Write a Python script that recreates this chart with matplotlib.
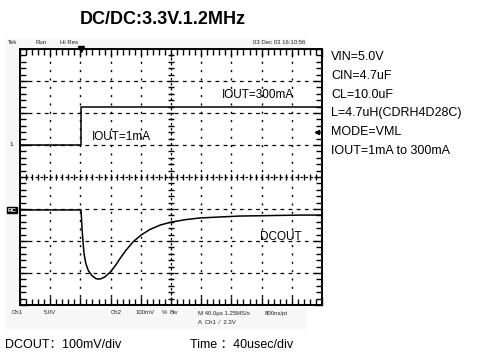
import numpy as np
import matplotlib.pyplot as plt
from matplotlib.ticker import MultipleLocator

plt.rcParams['font.family'] = ['Liberation Sans', 'DejaVu Sans']

# CH1 (load current step) in divisions
ch1_x = [0.0, 2.02, 2.02, 10.0]
ch1_y = [1.0, 1.0, 2.2, 2.2]

# DCOUT trace in divisions
dc_x = [0.0, 2.02, 2.06, 2.12, 2.18, 2.26, 2.38, 2.52, 2.65, 2.80, 2.98,
        3.15, 3.31, 3.50, 3.74, 4.00, 4.30, 4.65, 5.00, 5.50, 5.96, 6.60,
        7.28, 8.00, 8.60, 9.30, 10.0]
dc_y = [-1.03, -1.03, -1.70, -2.40, -2.70, -2.92, -3.08, -3.18, -3.19, -3.13, -2.98,
        -2.78, -2.55, -2.30, -2.03, -1.82, -1.64, -1.50, -1.41, -1.33, -1.28, -1.25,
        -1.22, -1.21, -1.20, -1.19, -1.19]

specs = ['VIN=5.0V', 'CIN=4.7uF', 'CL=10.0uF', 'L=4.7uH(CDRH4D28C)',
         'MODE=VML', 'IOUT=1mA to 300mA']

W, H = 478, 354
fig = plt.figure(figsize=(W / 100, H / 100), dpi=100)
fig.patch.set_facecolor('white')

# light scan background behind the scope screen
bg = fig.add_axes([5 / W, 1 - 330 / H, 302 / W, 292 / H], zorder=-5)
bg.set_axis_off()
bg.add_patch(plt.Rectangle((0, 0), 1, 1, transform=bg.transAxes, color='#f7f7f7'))

ax = fig.add_axes([20 / W, 1 - 305 / H, 302 / W, 256 / H], zorder=2)
ax.set_xlim(0, 10)
ax.set_ylim(-4, 4)
ax.set_facecolor('white')
for s in ax.spines.values():
    s.set_linewidth(1.4)
ax.xaxis.set_major_locator(MultipleLocator(1))
ax.yaxis.set_major_locator(MultipleLocator(1))
ax.xaxis.set_minor_locator(MultipleLocator(0.2))
ax.yaxis.set_minor_locator(MultipleLocator(0.2))
ax.tick_params(which='both', direction='in', top=True, right=True,
               labelbottom=False, labelleft=False, width=1.0)
ax.tick_params(which='major', length=6)
ax.tick_params(which='minor', length=4)

# graticule
for i in range(1, 10):
    if i != 5:
        ax.axvline(i, color='black', lw=1.0, ls=(0, (1.5, 4.5)), zorder=1)
for j in range(-3, 4):
    if j != 0:
        ax.axhline(j, color='black', lw=0.9, ls=(0, (3, 3.5)), zorder=1)
ax.axvline(5, color='black', lw=0.9, ls=(0, (2, 2)), zorder=1)
ax.axhline(0, color='black', lw=0.9, ls=(0, (2, 2)), zorder=1)
mx = np.arange(0.2, 10, 0.2)
ax.plot(mx, np.zeros_like(mx), ls='none', marker='|', ms=5, mew=1.0, color='black')
my = np.arange(-3.8, 4, 0.2)
ax.plot(np.full_like(my, 5), my, ls='none', marker='_', ms=5, mew=1.0, color='black')

# traces
ax.plot(ch1_x, ch1_y, color='black', lw=1.1, zorder=3)
ax.plot(dc_x, dc_y, color='black', lw=1.1, zorder=3)

ax.text(2.38, 1.25, 'IOUT=1mA', fontsize=8.5, va='center', ha='left')
ax.text(6.7, 2.55, 'IOUT=300mA', fontsize=8.5, va='center', ha='left')
ax.text(7.95, -1.88, 'DCOUT', fontsize=8.5, va='center', ha='left')

# scope markers
ax.plot([2.02], [4.0], marker='v', color='black', ms=4, clip_on=False, zorder=4)
ax.plot([9.85], [1.4], marker='<', color='black', ms=3, clip_on=False, zorder=4)
fig.text(11 / W, 1 - 145 / H, '1', fontsize=4.5, ha='center', va='center')
fig.text(12 / W, 1 - 210 / H, 'RC', fontsize=4.5, ha='center', va='center',
         fontweight='bold', bbox=dict(boxstyle='square,pad=0.1', fc='black', ec='black'),
         color='white')

small = dict(fontsize=4.3, color='#222222', va='center')
fig.text(8 / W, 1 - 43 / H, 'Tek', **small)
fig.text(35 / W, 1 - 43 / H, 'Run', **small)
fig.text(60 / W, 1 - 43 / H, 'Hi Res', **small)
fig.text(253 / W, 1 - 43 / H, '03 Dec 03 16:10:56', **small)
fig.text(12 / W, 1 - 313 / H, 'Ch1', **small)
fig.text(44 / W, 1 - 313 / H, '5.0V', **small)
fig.text(111 / W, 1 - 313 / H, 'Ch2', **small)
fig.text(136 / W, 1 - 313 / H, '100mV', **small)
fig.text(162 / W, 1 - 313 / H, '%', **small)
fig.text(170 / W, 1 - 313 / H, 'Bw', **small)
fig.text(198 / W, 1 - 313 / H, 'M 40.0\u00b5s 1.25MS/s', **small)
fig.text(265 / W, 1 - 313 / H, '800ns/pt', **small)
fig.text(198 / W, 1 - 322 / H, 'A  Ch1  \u2215  2.3V', **small)

fig.text(163 / W, 1 - 20 / H, 'DC/DC:3.3V.1.2MHz', fontsize=13,
         fontweight='bold', ha='center', va='center')

for k, s in enumerate(specs):
    fig.text(331 / W, 1 - (57 + 18.8 * k) / H, s, fontsize=9, va='center', ha='left')

fig.text(5 / W, 1 - 345 / H, 'DCOUT\uff1a100mV/div', fontsize=9, va='center',
         family=['Liberation Sans', 'Noto Sans CJK SC'])
fig.text(190 / W, 1 - 345 / H, 'Time \uff1a40usec/div', fontsize=9, va='center',
         family=['Liberation Sans', 'Noto Sans CJK SC'])

fig.savefig('out.png', dpi=100)
